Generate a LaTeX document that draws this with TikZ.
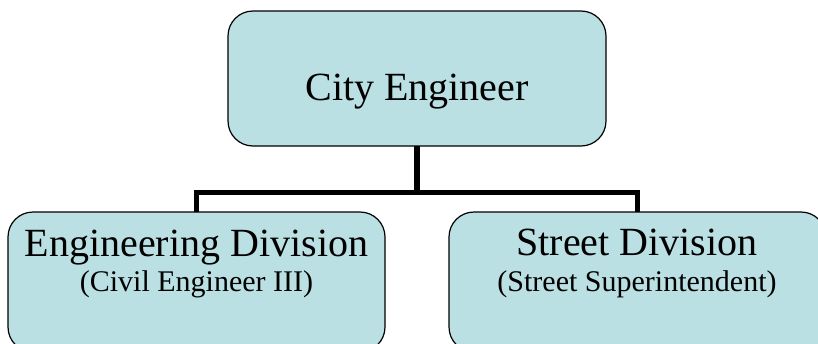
\documentclass[tikz,border=0pt]{standalone}
\usepackage{fontspec}
\setmainfont{Liberation Serif}
\definecolor{boxfill}{HTML}{BBE0E3}
\begin{document}
\begin{tikzpicture}[x=1pt,y=-1pt,
  orgbox/.style={draw=black,line width=1.2pt,fill=boxfill,rounded corners=25pt,
    rectangle,inner sep=0pt,outer sep=0pt},
  conn/.style={draw=black,line width=5.5pt},
  bigtext/.style={anchor=base,inner sep=0pt,font=\fontsize{40}{48}\selectfont},
  smalltext/.style={anchor=base,inner sep=0pt,font=\fontsize{30}{36}\selectfont}]
\useasboundingbox (0,0) rectangle (818,343);
\clip (0,0) rectangle (818,343);
\node[orgbox,minimum width=378pt,minimum height=135pt] (top) at (417,78.5) {};
\node[orgbox,minimum width=377pt,minimum height=140pt] (left) at (196.5,282) {};
\node[orgbox,minimum width=377pt,minimum height=140pt] (right) at (637.5,282) {};
\coordinate (j) at (417,192.5);
\draw[conn] (top.south) -- (j);
\draw[conn] (left.north) |- (j) -| (right.north);
\node[bigtext] (ttop) at (417,100) {City Engineer};
\node[bigtext] (tleft) at (196.5,256) {Engineering Division};
\node[smalltext] (sleft) at (196.5,291) {(Civil Engineer III)};
\node[bigtext] (tright) at (637,255) {Street Division};
\node[smalltext] (sright) at (637,291) {(Street Superintendent)};
\end{tikzpicture}
\end{document}
